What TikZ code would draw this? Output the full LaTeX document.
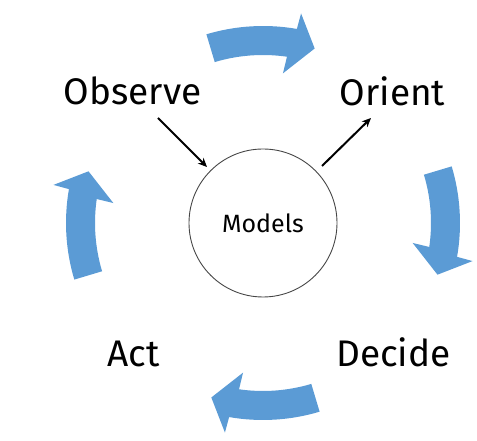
\documentclass[tikz,border=0pt]{standalone}
\usepackage{fontspec}
\setmainfont{Fira Sans}
\usetikzlibrary{arrows.meta}
\definecolor{cycleblue}{RGB}{91,155,213}
\definecolor{ringgray}{RGB}{70,70,70}
\tikzset{
  phase/.style={font=\fontsize{37}{40}\selectfont, anchor=base, inner sep=0pt},
  modelring/.style={circle, draw=ringgray, line width=0.9pt, minimum size=148pt, inner sep=0pt},
  modeltext/.style={font=\fontsize{25}{28}\selectfont, anchor=base, inner sep=0pt},
  flow/.style={-{Stealth[length=9pt,width=8pt]}, line width=2pt, black},
  cyclearrow/.style={fill=cycleblue, draw=none}
}
\begin{document}
\begin{tikzpicture}[x=1pt,y=1pt]
\useasboundingbox (0,0) rectangle (477,441);
\coordinate (C) at (263,218);
% curved block arrows
\foreach \t in {90,0,-90,180}{
  \fill[cyclearrow]
    ([shift={(C)}] \t+16.7:197) arc[start angle=\t+16.7, end angle=\t-9.9, radius=197]
    -- ([shift={(C)}] \t-10.3:213)
    -- ([shift={(C)}] \t-16.5:182)
    -- ([shift={(C)}] \t-7.6:151)
    -- ([shift={(C)}] \t-8.2:168)
    arc[start angle=\t-8.2, end angle=\t+16.7, radius=168]
    -- cycle;
}
% circle
\node[modelring] (models) at (C) {};
\node[modeltext] (mlabel) at (263,208) {Models};
% labels
\node[phase] (observe) at (132.5,336) {Observe};
\node[phase] (orient) at (392.5,335) {Orient};
\node[phase] (act) at (133.5,74) {Act};
\node[phase] (decide) at (393.5,74) {Decide};
% connectors
\coordinate (obsend) at (158,323);
\coordinate (obstip) at (207,274);
\coordinate (oristart) at (322,275);
\coordinate (oritip) at (371,323);
\draw[flow] (obsend) -- (obstip);
\draw[flow] (oristart) -- (oritip);
\end{tikzpicture}
\end{document}
